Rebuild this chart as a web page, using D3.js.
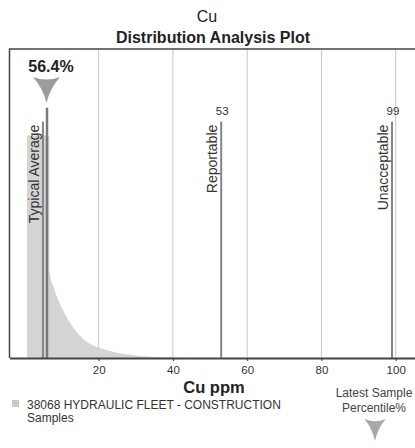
<!DOCTYPE html>
<html><head><meta charset="utf-8">
<script src="https://cdn.jsdelivr.net/npm/d3@7"></script>
<style>
html,body{margin:0;padding:0;background:#fff;}
svg{display:block;font-family:"Liberation Sans",Arial,sans-serif;}
</style></head>
<body>
<svg id="c" width="415" height="448"></svg>
<script>
// ---- data ----
const titleTop = "Cu";
const titleMain = "Distribution Analysis Plot";
const xAxisTitle = "Cu ppm";
const xTicks = [20, 40, 60, 80, 100];
const distX = [0.7, 6.75, 6.8, 8, 10, 12, 14, 16, 18, 20, 22, 25, 28, 32, 36, 40, 45];
const distY = [72, 72, 28, 22.5, 16.5, 12, 8.5, 6, 4.4, 3.4, 2.6, 1.7, 1.1, 0.6, 0.35, 0.2, 0];
const limitNames = ["Typical Average", "Reportable", "Unacceptable"];
const limitValues = [5, 53, 99];
const limitLabels = ["", "53", "99"];
const latestValue = 6.1;
const latestPercentile = "56.4%";
const legendLabel = ["38068 HYDRAULIC FLEET - CONSTRUCTION", "Samples"];
const latestLegend = ["Latest Sample", "Percentile%"];

// ---- layout ----
const svg = d3.select("#c");
const L = 9.5, R = 418, T = 49, B = 358;
const x = d3.scaleLinear().domain([-4, 106]).range([L, R]);
const y = d3.scaleLinear().domain([0, 100]).range([B, T]);

svg.append("rect").attr("width", 415).attr("height", 448).attr("fill", "#fff");

// titles
svg.append("text").attr("x", 207).attr("y", 22).attr("text-anchor", "middle")
  .attr("font-size", 16).attr("fill", "#222").text(titleTop);
svg.append("text").attr("x", 213).attr("y", 43).attr("text-anchor", "middle")
  .attr("font-size", 16).attr("font-weight", "bold").attr("fill", "#222").text(titleMain);

// grid
svg.append("g").selectAll("line").data(xTicks).join("line")
  .attr("x1", d => x(d)).attr("x2", d => x(d)).attr("y1", T).attr("y2", B)
  .attr("stroke", "#c8c8c8").attr("stroke-width", 1);

// distribution area
const pts = distX.map((v, i) => [v, distY[i]]);
const area = d3.area().x(d => x(d[0])).y0(y(0)).y1(d => y(d[1])).curve(d3.curveMonotoneX);
svg.append("path").datum(pts).attr("d", area).attr("fill", "#d4d4d4");

// limit lines
const lim = svg.append("g");
limitValues.forEach((v, i) => {
  lim.append("line").attr("x1", x(v)).attr("x2", x(v)).attr("y1", y(76.5)).attr("y2", B)
    .attr("stroke", "#858585").attr("stroke-width", 2);
  lim.append("text")
    .attr("transform", `translate(${x(v) - 4},${y(75.5)}) rotate(-90)`)
    .attr("text-anchor", "end").attr("font-size", 14).attr("fill", "#333").text(limitNames[i]);
  if (limitLabels[i]) {
    lim.append("text").attr("x", x(v) + 1).attr("y", y(78.5)).attr("text-anchor", "middle")
      .attr("font-size", 11.5).attr("fill", "#333").text(limitLabels[i]);
  }
});

// latest sample line + marker
const lx = x(latestValue);
svg.append("line").attr("x1", lx).attr("x2", lx).attr("y1", y(81)).attr("y2", B)
  .attr("stroke", "#7a7a7a").attr("stroke-width", 2.5);
function shield(cx, top, h, w) {
  const hw = w / 2;
  return `M${cx - hw},${top} Q${cx},${top + h * 0.2} ${cx + hw},${top} Q${cx + w * 0.12},${top + h * 0.45} ${cx},${top + h} Q${cx - w * 0.12},${top + h * 0.45} ${cx - hw},${top} Z`;
}
svg.append("path").attr("d", shield(lx - 0.5, 77, 26, 27)).attr("fill", "#9c9c9c");
svg.append("text").attr("x", lx + 4).attr("y", 72).attr("text-anchor", "middle")
  .attr("font-size", 16).attr("font-weight", "bold").attr("fill", "#222").text(latestPercentile);

// frame
svg.append("path").attr("d", `M${R},${T} H${L} V${B}`).attr("fill", "none")
  .attr("stroke", "#444").attr("stroke-width", 1.5);

// x axis
const ax = svg.append("g").attr("transform", `translate(0,${B})`)
  .call(d3.axisBottom(x).tickValues(xTicks).tickSize(3).tickSizeOuter(0).tickPadding(5));
ax.select(".domain").attr("stroke", "#444").attr("stroke-width", 2);
ax.selectAll(".tick line").attr("stroke", "#333");
ax.selectAll(".tick text").attr("font-size", 11.5).attr("fill", "#333")
  .attr("font-family", "'Liberation Sans',Arial,sans-serif");

svg.append("text").attr("x", 214).attr("y", 393).attr("text-anchor", "middle")
  .attr("font-size", 16.5).attr("font-weight", "bold").attr("fill", "#222").text(xAxisTitle);

// legend
svg.append("rect").attr("x", 12).attr("y", 400).attr("width", 7).attr("height", 7).attr("fill", "#c8c8c8");
svg.append("g").selectAll("text").data(legendLabel).join("text")
  .attr("x", 27).attr("y", (d, i) => 409 + i * 12.5)
  .attr("font-size", 12).attr("fill", "#333").text(d => d);

svg.append("g").selectAll("text").data(latestLegend).join("text")
  .attr("x", 374).attr("y", (d, i) => 397 + i * 15)
  .attr("text-anchor", "middle").attr("font-size", 12).attr("fill", "#444").text(d => d);
svg.append("path").attr("d", shield(375, 419, 22, 21)).attr("fill", "#a8a8a8");
</script>
</body></html>
